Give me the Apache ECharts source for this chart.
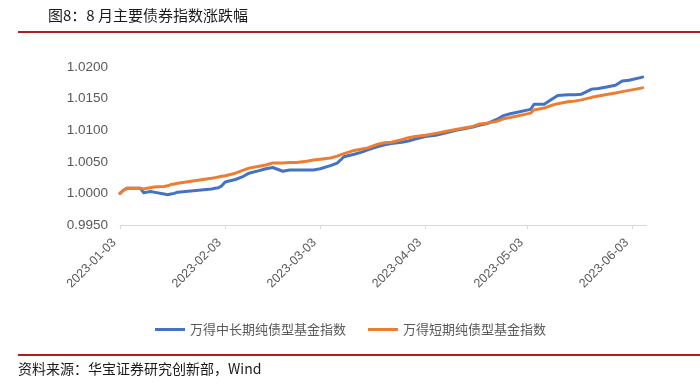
<!DOCTYPE html>
<html>
<head>
<meta charset="utf-8">
<script src="https://cdn.jsdelivr.net/npm/echarts@6/dist/echarts.min.js"></script>
<style>
html,body{margin:0;padding:0;background:#fff;}
#c{width:700px;height:392px;}
</style>
</head>
<body>
<div id="c"></div>
<script>
var titleText = '图8：8 月主要债券指数涨跌幅';
var sourceText = '资料来源：华宝证券研究创新部，Wind';
var seriesNames = ['万得中长期纯债型基金指数', '万得短期纯债型基金指数'];
var tickDates = ['2023-01-03','2023-02-03','2023-03-03','2023-04-03','2023-05-03','2023-06-03'];
var dates = ['2023-01-03','2023-01-04','2023-01-05','2023-01-06','2023-01-09','2023-01-10','2023-01-11','2023-01-12','2023-01-13',
'2023-01-16','2023-01-17','2023-01-18','2023-01-19','2023-01-20','2023-01-30','2023-01-31','2023-02-01','2023-02-02','2023-02-03',
'2023-02-06','2023-02-08','2023-02-10','2023-02-13','2023-02-15','2023-02-17','2023-02-20','2023-02-22','2023-02-24','2023-02-27',
'2023-03-01','2023-03-03','2023-03-06','2023-03-08','2023-03-10','2023-03-13','2023-03-15','2023-03-17','2023-03-20','2023-03-22',
'2023-03-24','2023-03-27','2023-03-29','2023-03-31','2023-04-03','2023-04-06','2023-04-10','2023-04-12','2023-04-14','2023-04-17',
'2023-04-19','2023-04-21','2023-04-24','2023-04-26','2023-04-28','2023-05-04','2023-05-05','2023-05-08','2023-05-10','2023-05-12',
'2023-05-15','2023-05-17','2023-05-19','2023-05-22','2023-05-24','2023-05-26','2023-05-29','2023-05-31','2023-06-02','2023-06-06'];
var midLong = [1.0000,1.0005,1.0008,1.0008,1.0008,1.0001,1.0002,1.0003,1.0002,
0.9999,0.9998,0.9999,1.0000,1.0002,1.0007,1.0008,1.0009,1.0012,1.0018,
1.0022,1.0026,1.0032,1.0036,1.0039,1.0041,1.0035,1.0037,1.0037,1.0037,
1.0037,1.0039,1.0044,1.0048,1.0058,1.0062,1.0065,1.0069,1.0074,1.0077,
1.0079,1.0081,1.0083,1.0086,1.0090,1.0092,1.0097,1.0100,1.0102,1.0105,
1.0108,1.0110,1.0117,1.0123,1.0126,1.0133,1.0141,1.0141,1.0148,1.0155,
1.0156,1.0156,1.0157,1.0165,1.0166,1.0168,1.0171,1.0178,1.0179,1.0184];
var shortTerm = [1.0000,1.0005,1.0008,1.0008,1.0008,1.0007,1.0008,1.0009,1.0010,
1.0011,1.0012,1.0014,1.0015,1.0016,1.0024,1.0025,1.0026,1.0027,1.0028,
1.0032,1.0036,1.0040,1.0043,1.0045,1.0048,1.0048,1.0049,1.0049,1.0051,
1.0053,1.0054,1.0056,1.0059,1.0063,1.0068,1.0070,1.0072,1.0078,1.0080,
1.0081,1.0085,1.0088,1.0090,1.0092,1.0095,1.0099,1.0101,1.0103,1.0106,
1.0110,1.0111,1.0114,1.0118,1.0120,1.0127,1.0132,1.0135,1.0139,1.0142,
1.0145,1.0146,1.0148,1.0152,1.0154,1.0156,1.0159,1.0161,1.0163,1.0167];
var yMin = 0.995, yMax = 1.02, yStep = 0.005;
var startDate = '2023-01-03', endDate = '2023-06-07';

var DAY = 86400000;
function utc(s){ var p = s.split('-'); return Date.UTC(+p[0], +p[1]-1, +p[2]); }
function dayNum(s){ return Math.round((utc(s) - utc(startDate)) / DAY); }
function dayLabel(n){
  var d = new Date(utc(startDate) + Math.round(n) * DAY);
  var m = d.getUTCMonth()+1, dd = d.getUTCDate();
  return d.getUTCFullYear() + '-' + (m<10?'0':'') + m + '-' + (dd<10?'0':'') + dd;
}
function pairs(vals){ return dates.map(function(d,i){ return [dayNum(d), vals[i]]; }); }
var tickDays = tickDates.map(dayNum);

var chart = echarts.init(document.getElementById('c'), null, {renderer:'canvas'});
var labelColor = '#595959';
var option = {
  backgroundColor: '#fff',
  animation: false,
  grid: { left: 120, right: 54, top: 67, bottom: 167, containLabel: false },
  xAxis: {
    type: 'value',
    min: 0,
    max: dayNum(endDate),
    axisLine: { show: true, lineStyle: { color: '#d9d9d9', width: 1 } },
    axisTick: { show: true, customValues: tickDays, length: 4, lineStyle: { color: '#d9d9d9' } },
    splitLine: { show: false },
    axisLabel: {
      customValues: tickDays,
      rotate: 45,
      margin: 10,
      padding: [0, 8, 0, 0],
      color: labelColor,
      fontSize: 12.5,
      fontFamily: 'Liberation Sans, Arial, sans-serif',
      formatter: function(v){ return dayLabel(v); }
    }
  },
  yAxis: {
    type: 'value',
    min: yMin, max: yMax, interval: yStep,
    axisLine: { show: false },
    axisTick: { show: false },
    splitLine: { show: false },
    axisLabel: {
      color: labelColor, fontSize: 13.5, margin: 12,
      fontFamily: 'Liberation Sans, Arial, sans-serif',
      formatter: function(v){ return v.toFixed(4); }
    }
  },
  legend: {
    left: 150, top: 318,
    icon: 'rect',
    itemWidth: 30, itemHeight: 3, itemGap: 22,
    textStyle: { color: labelColor, fontSize: 13, fontFamily: 'Noto Sans CJK SC, sans-serif' },
    data: seriesNames
  },
  series: [
    { name: seriesNames[0], type: 'line', data: pairs(midLong), symbol: 'none', showSymbol: false,
      lineStyle: { color: '#4472c4', width: 3, cap: 'round', join: 'round' }, itemStyle: { color: '#4472c4' } },
    { name: seriesNames[1], type: 'line', data: pairs(shortTerm), symbol: 'none', showSymbol: false,
      lineStyle: { color: '#ed7d31', width: 3, cap: 'round', join: 'round' }, itemStyle: { color: '#ed7d31' } }
  ],
  graphic: [
    { type: 'text', left: 48, top: 8, style: { text: titleText, fill: '#1a1a1a', fontSize: 15, fontFamily: 'Noto Sans CJK SC, sans-serif' } },
    { type: 'rect', shape: { x: 18, y: 31, width: 682, height: 2 }, style: { fill: '#b01e1e' } },
    { type: 'rect', shape: { x: 18, y: 354, width: 682, height: 2 }, style: { fill: '#b01e1e' } },
    { type: 'text', left: 18, top: 362, style: { text: sourceText, fill: '#1a1a1a', fontSize: 14, fontFamily: 'Noto Sans CJK SC, sans-serif' } }
  ]
};
chart.setOption(option);
</script>
</body>
</html>
